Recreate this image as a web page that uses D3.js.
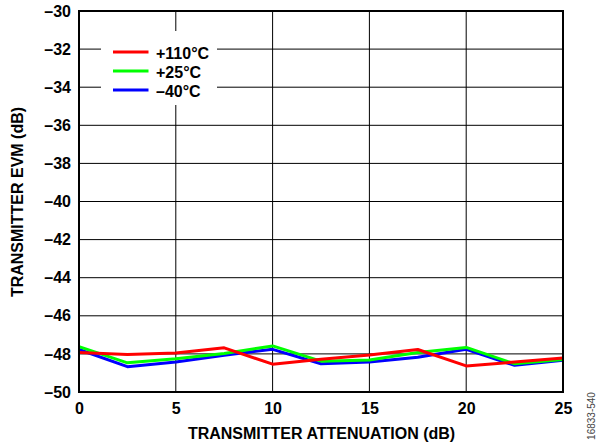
<!DOCTYPE html>
<html><head><meta charset="utf-8">
<script src="https://cdn.jsdelivr.net/npm/d3@7"></script>
<style>body{margin:0;background:#fff}svg{display:block}</style>
</head><body>
<script>
const xValues = [0, 2.5, 5, 7.5, 10, 12.5, 15, 17.5, 20, 22.5, 25];
const red110 = [-47.93, -48.03, -47.95, -47.68, -48.54, -48.28, -48.06, -47.77, -48.63, -48.43, -48.21];
const green25 = [-47.62, -48.47, -48.26, -47.98, -47.58, -48.38, -48.32, -47.93, -47.66, -48.52, -48.3];
const blueM40 = [-47.77, -48.67, -48.42, -48.07, -47.76, -48.52, -48.43, -48.18, -47.76, -48.6, -48.33];
const seriesNames = ["+110°C", "+25°C", "–40°C"];
const seriesColors = ["#ff0000", "#00ff00", "#0000ff"];
const xTicks = [0, 5, 10, 15, 20, 25];
const yTicks = [-30, -32, -34, -36, -38, -40, -42, -44, -46, -48, -50];

const W = 600, H = 444;
const svg = d3.select("body").append("svg").attr("width", W).attr("height", H);
const L = 79, R = 563, T = 11, B = 392;
const x = d3.scaleLinear().domain([0, 25]).range([L, R]);
const y = d3.scaleLinear().domain([-50, -30]).range([B, T]);
const font = "'Liberation Sans', Arial, sans-serif";
const fs = 16;

// grid
svg.append("g").selectAll("line").data(xTicks).join("line")
  .attr("x1", d => x(d)).attr("x2", d => x(d)).attr("y1", T).attr("y2", B)
  .attr("stroke", "#000").attr("stroke-width", 1);
svg.append("g").selectAll("line").data(yTicks).join("line")
  .attr("x1", L).attr("x2", R).attr("y1", d => y(d)).attr("y2", d => y(d))
  .attr("stroke", "#000").attr("stroke-width", 1);

// legend background
svg.append("rect").attr("x", 101).attr("y", 31).attr("width", 116).attr("height", 74).attr("fill", "#fff");

// data lines
const line = d3.line().x((d, i) => x(xValues[i])).y(d => y(d));
[[blueM40, seriesColors[2]], [green25, seriesColors[1]], [red110, seriesColors[0]]].forEach(([s, col]) => {
  svg.append("path").datum(s).attr("d", line).attr("fill", "none")
    .attr("stroke", col).attr("stroke-width", 3).attr("stroke-linejoin", "round");
});

// frame
svg.append("rect").attr("x", L).attr("y", T).attr("width", R - L).attr("height", B - T)
  .attr("fill", "none").attr("stroke", "#000").attr("stroke-width", 2);

// axes labels
const xAxis = d3.axisBottom(x).tickValues(xTicks).tickSize(0).tickPadding(11).tickFormat(d3.format("d"));
const gx = svg.append("g").attr("transform", `translate(0,${B})`).call(xAxis);
gx.select(".domain").remove();
gx.selectAll("text").attr("font-family", font).attr("font-weight", "bold").attr("font-size", fs).attr("fill", "#000");

const yAxis = d3.axisLeft(y).tickValues(yTicks).tickSize(0).tickPadding(8)
  .tickFormat(d => "–" + Math.abs(d));
const gy = svg.append("g").attr("transform", `translate(${L},0)`).call(yAxis);
gy.select(".domain").remove();
gy.selectAll("text").attr("font-family", font).attr("font-weight", "bold").attr("font-size", fs).attr("fill", "#000");

// titles
svg.append("text").attr("x", 321.5).attr("y", 439).attr("text-anchor", "middle")
  .attr("font-family", font).attr("font-weight", "bold").attr("font-size", fs).text("TRANSMITTER ATTENUATION (dB)");
svg.append("text").attr("transform", `translate(22.5,202) rotate(-90)`).attr("text-anchor", "middle")
  .attr("font-family", font).attr("font-weight", "bold").attr("font-size", fs).text("TRANSMITTER EVM (dB)");
svg.append("text").attr("transform", `translate(595,416) rotate(-90)`).attr("text-anchor", "middle")
  .attr("font-family", font).attr("font-size", 10).attr("fill", "#444").text("16833-540");

// legend
const legY = [52, 71, 90];
seriesNames.forEach((n, i) => {
  svg.append("line").attr("x1", 113).attr("x2", 148.5).attr("y1", legY[i]).attr("y2", legY[i])
    .attr("stroke", seriesColors[i]).attr("stroke-width", 3);
  svg.append("text").attr("x", 156).attr("y", legY[i] + 6.5).attr("font-family", font)
    .attr("font-weight", "bold").attr("font-size", fs).text(n);
});
</script>
</body></html>
